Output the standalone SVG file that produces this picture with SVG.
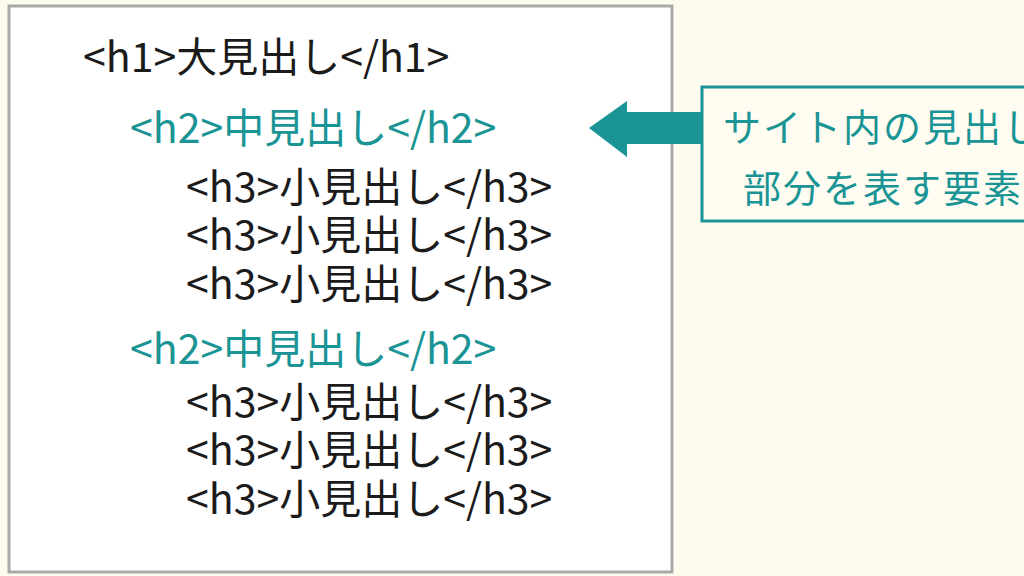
<svg xmlns="http://www.w3.org/2000/svg" width="1024" height="576" viewBox="0 0 1024 576">
<style>
.t{font-family:"Noto Sans CJK JP","Noto Sans CJK SC",sans-serif;font-size:41px;font-weight:400}
.k{fill:#1b1b1b}
.g{fill:#1a9494}
.lbl{font-family:"Noto Sans CJK JP","Noto Sans CJK SC",sans-serif;font-size:38px;font-weight:400;fill:#1a9494;text-anchor:middle;letter-spacing:2px}
</style>
<rect x="0" y="0" width="1024" height="576" fill="#fdfaee"/>
<g id="code-box">
<rect x="9" y="6" width="663" height="566" fill="#ffffff" stroke="#a9a9a9" stroke-width="3"/>
<text class="t k" x="83" y="72">&lt;h1&gt;大見出し&lt;/h1&gt;</text>
<text class="t g" x="130" y="143">&lt;h2&gt;中見出し&lt;/h2&gt;</text>
<text class="t k" x="186" y="202">&lt;h3&gt;小見出し&lt;/h3&gt;</text>
<text class="t k" x="186" y="250">&lt;h3&gt;小見出し&lt;/h3&gt;</text>
<text class="t k" x="186" y="299">&lt;h3&gt;小見出し&lt;/h3&gt;</text>
<text class="t g" x="130" y="364">&lt;h2&gt;中見出し&lt;/h2&gt;</text>
<text class="t k" x="186" y="417">&lt;h3&gt;小見出し&lt;/h3&gt;</text>
<text class="t k" x="186" y="465">&lt;h3&gt;小見出し&lt;/h3&gt;</text>
<text class="t k" x="186" y="514">&lt;h3&gt;小見出し&lt;/h3&gt;</text>
</g>
<g id="connectors">
<polygon points="589,128 627,101 627,112 703,112 703,144 627,144 627,157" fill="#1a9494"/>
</g>
<g id="label">
<rect x="702" y="87" width="400" height="134" fill="#fffdf2" stroke="#1a9494" stroke-width="3"/>
<text class="lbl" x="883" y="141">サイト内の見出し</text>
<text class="lbl" x="883" y="202">部分を表す要素</text>
</g>
</svg>
